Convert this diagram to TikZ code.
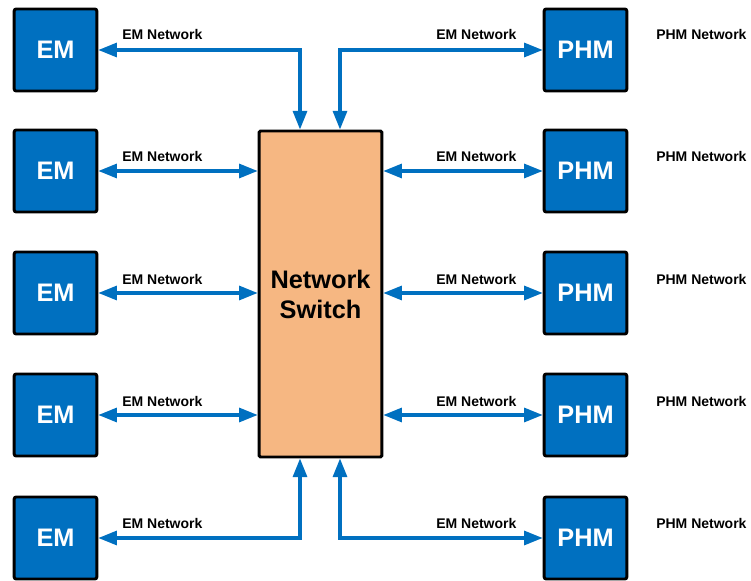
\documentclass[tikz,border=0pt]{standalone}
\usepackage{fontspec}
\setmainfont{Liberation Sans}
\usepackage{xcolor}
\usepackage{tikz}
\usetikzlibrary{arrows.meta,positioning,calc}
\definecolor{emblue}{RGB}{0,112,192}
\definecolor{switchorange}{RGB}{246,183,130}
\tikzset{
    module/.style={
        rectangle, rounded corners=1.5pt, draw=black, line width=2.2pt,
        fill=emblue, text=white,
        minimum width=62pt, minimum height=61.5pt,
        align=center, font=\fontsize{19}{22}\selectfont\bfseries
    },
    switchbox/.style={
        rectangle, rounded corners=1pt, draw=black, line width=2.2pt,
        fill=switchorange,
        minimum width=92pt, minimum height=244.5pt,
        align=center, font=\fontsize{19}{22.5}\selectfont\bfseries
    },
    netlabel/.style={anchor=west, inner sep=0pt, font=\fontsize{10.5}{12}\selectfont\bfseries},
    link/.style={draw=emblue, line width=2.4pt,
        arrows={Triangle[length=14pt,width=10.5pt]-Triangle[length=14pt,width=10.5pt]}}
}

\begin{document}
\begin{tikzpicture}[x=0.75pt, y=-0.75pt]
\useasboundingbox (0,0) rectangle (751,581);

%% Central switch, x = 259..382, y = 131..457
\node[switchbox] (switch) at (320.5, 294) {Network\\Switch};

%% EM modules on the left, x = 14..97
\node[module] (em1) at (55.5,  50) {EM};
\node[module] (em2) at (55.5, 171) {EM};
\node[module] (em3) at (55.5, 293) {EM};
\node[module] (em4) at (55.5, 415) {EM};
\node[module] (em5) at (55.5, 538) {EM};

%% PHM modules on the right, x = 544..627
\node[module] (phm1) at (585.5,  50) {PHM};
\node[module] (phm2) at (585.5, 171) {PHM};
\node[module] (phm3) at (585.5, 293) {PHM};
\node[module] (phm4) at (585.5, 415) {PHM};
\node[module] (phm5) at (585.5, 538) {PHM};

%% taps on top and bottom of the switch (x = 300 and x = 340)
\coordinate (topL) at ($(switch.north)+(-20.5,0)$);
\coordinate (topR) at ($(switch.north)+(19.5,0)$);
\coordinate (botL) at ($(switch.south)+(-20.5,0)$);
\coordinate (botR) at ($(switch.south)+(19.5,0)$);

%% EM <-> switch
\draw[link] (em1.east) -| (topL);
\draw[link] (em2.east) -- (switch.west |- em2.east);
\draw[link] (em3.east) -- (switch.west |- em3.east);
\draw[link] (em4.east) -- (switch.west |- em4.east);
\draw[link] (em5.east) -| (botL);

%% switch <-> PHM
\draw[link] (topR) |- (phm1.west);
\draw[link] (switch.east |- phm2.west) -- (phm2.west);
\draw[link] (switch.east |- phm3.west) -- (phm3.west);
\draw[link] (switch.east |- phm4.west) -- (phm4.west);
\draw[link] (botR) |- (phm5.west);

%% labels above the arrows
\node[netlabel] (labL1) at (122,  34) {EM Network};
\node[netlabel] (labL2) at (122, 156) {EM Network};
\node[netlabel] (labL3) at (122, 279) {EM Network};
\node[netlabel] (labL4) at (122, 401) {EM Network};
\node[netlabel] (labL5) at (122, 523) {EM Network};

\node[netlabel] (labR1) at (436,  34) {EM Network};
\node[netlabel] (labR2) at (436, 156) {EM Network};
\node[netlabel] (labR3) at (436, 279) {EM Network};
\node[netlabel] (labR4) at (436, 401) {EM Network};
\node[netlabel] (labR5) at (436, 523) {EM Network};

%% PHM network labels, right of the PHM boxes
\node[netlabel] (labP1) at (656,  34) {PHM Network};
\node[netlabel] (labP2) at (656, 156) {PHM Network};
\node[netlabel] (labP3) at (656, 279) {PHM Network};
\node[netlabel] (labP4) at (656, 401) {PHM Network};
\node[netlabel] (labP5) at (656, 523) {PHM Network};

\end{tikzpicture}
\end{document}
